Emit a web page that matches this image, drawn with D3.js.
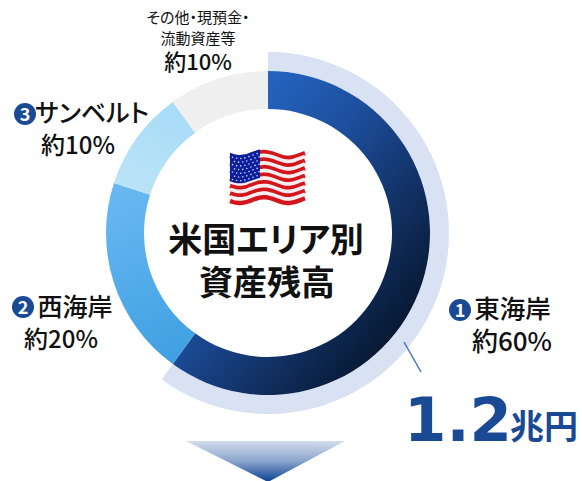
<!DOCTYPE html>
<html>
<head>
<meta charset="utf-8">
<style>
html, body { margin: 0; padding: 0; background: #fff; }
svg { display: block; }
text { font-family: "Noto Sans CJK JP", "Noto Sans", sans-serif; fill: #111; text-anchor: middle; font-weight: 500; font-feature-settings: "palt"; }
</style>
<script src="https://d3js.org/d3.v7.min.js"></script>
</head>
<body>
<svg id="chart" width="582" height="481"></svg>
<script>
// shares (%)
var regions = ["東海岸", "西海岸", "サンベルト", "その他"];
var shares = [60, 20, 10, 10];
var shareLabels = ["約60%", "約20%", "約10%", "約10%"];
var fills = ["url(#eastGrad)", "url(#westGrad)", "url(#beltGrad)", "#efefef"];
var highlightTotal = "1.2";
var highlightUnit = "兆円";

var svg = d3.select("#chart"),
  cx = 268,
  cy = 233,
  defs = svg.append("defs");

// Gradient coordinates are given in page pixels
function linearGrad(id, x1, y1, x2, y2, stops, local) {
  var dx = local ? cx : 0, dy = local ? cy : 0;
  var g = defs.append("linearGradient").attr("id", id)
    .attr("gradientUnits", "userSpaceOnUse")
    .attr("x1", x1 - dx).attr("y1", y1 - dy).attr("x2", x2 - dx).attr("y2", y2 - dy);
  stops.forEach(function(s) {
    g.append("stop").attr("offset", s[0]).attr("stop-color", s[1]);
  });
}
linearGrad("eastGrad", 225, 130, 425, 290, [[0, "#2464c0"], [0.35, "#1d4f9e"], [0.7, "#123266"], [1, "#081a36"]], true);
linearGrad("westGrad", 120, 190, 190, 370, [[0, "#68b8f2"], [1, "#3c9ee0"]], true);
linearGrad("beltGrad", 180, 105, 125, 195, [[0, "#a6dcf8"], [1, "#bde3f7"]], true);
linearGrad("arrowGrad", 0, 441, 0, 481, [[0, "#d3dcec"], [0.5, "#8ba5cc"], [1, "#0f4495"]], false);

var pie = d3.pie().sort(null).value(function(d) { return d; });
var arcs = pie(shares);
var ring = d3.arc().innerRadius(124).outerRadius(162);
var halo = d3.arc().innerRadius(162).outerRadius(181);

var g = svg.append("g").attr("transform", "translate(" + cx + "," + cy + ")");

// Pale band round the 60% slice
g.append("path").attr("d", halo(arcs[0])).attr("fill", "#d8e2f3");

g.selectAll("path.slice")
  .data(arcs)
  .enter().append("path")
  .attr("class", "slice")
  .attr("d", ring)
  .attr("fill", function(d, i) { return fills[i]; });

// Waving flag, built from rows of small strips
function drawFlag(x0, y0, w, h) {
  var flag = svg.append("g").attr("transform", "translate(" + x0 + "," + y0 + ")");
  var rows = 13, rowH = h / rows;
  var wave = d3.line().curve(d3.curveBasis);
  function yOff(x) { return 3 * Math.sin(x / w * Math.PI * 3.1 + 0.3); }
  var xs = d3.range(0, w + 1, 3);
  for (var i = 0; i < rows; i++) {
    var pts = xs.map(function(x) { return [x, i * rowH + rowH / 2 + yOff(x)]; });
    flag.append("path").attr("d", wave(pts)).attr("fill", "none")
      .attr("stroke", i % 2 ? "#f6eeee" : "#d3161c")
      .attr("stroke-width", rowH + 0.6);
  }
  var top = xs.filter(function(x) { return x <= w * 0.41; });
  var area = d3.area().curve(d3.curveBasis)
    .x(function(x) { return x; })
    .y0(function(x) { return yOff(x) - 1; })
    .y1(function(x) { return h * 0.56 + yOff(x); });
  flag.append("path").attr("d", area(top)).attr("fill", "#0d1f9c");
  for (var r = 0; r < 7; r++) {
    for (var c = 0; c < 7; c++) {
      var sx = 2.5 + c * 4.1 + (r % 2 ? 2 : 0);
      if (sx > w * 0.40) continue;
      flag.append("circle").attr("cx", sx).attr("cy", 2.5 + r * 3.7 + yOff(sx))
        .attr("r", 0.8).attr("fill", "#cfd6f5");
    }
  }
}
drawFlag(230, 153, 75, 49);

// One text element per label, each line a tspan: [x, y, size, weight, string]
function multiLine(lines) {
  var t = svg.append("text");
  lines.forEach(function(l) {
    t.append("tspan").attr("x", l[0]).attr("y", l[1])
      .style("font-size", l[2] + "px").style("font-weight", l[3]).text(l[4]);
  });
}

// Centre title
multiLine([[266, 252, 34, 700, "米国エリア別"], [267, 295, 34, 700, "資産残高"]]);

function badge(x, y, n) {
  svg.append("circle").attr("cx", x).attr("cy", y).attr("r", 11).attr("fill", "#1b4a94");
  svg.append("text").attr("x", x).attr("y", y + 6.5)
    .style("font-size", "18px").style("font-weight", 700).style("fill", "#fff").text(n);
}

// East coast
badge(460, 310, "1");
multiLine([[512.5, 318, 25.5, 500, regions[0]], [512, 351, 26, 500, shareLabels[0]]]);
// West coast
badge(23, 307, "2");
multiLine([[75, 316, 25, 500, regions[1]], [61, 348, 24, 500, shareLabels[1]]]);
// Sunbelt
badge(25, 114, "3");
multiLine([[92, 122, 25, 500, regions[2]], [78, 154, 24, 500, shareLabels[2]]]);
// Other
multiLine([[198, 23, 15, 400, "その他・現預金・"], [198, 44, 15, 400, "流動資産等"], [198, 70, 22, 500, shareLabels[3]]]);

// Leader line and total
svg.append("line").attr("x1", 404).attr("y1", 342).attr("x2", 421).attr("y2", 372)
  .attr("stroke", "#4a72c4").attr("stroke-width", 1.5);
svg.append("text").attr("x", 458).attr("y", 441)
  .style("font-family", "'DejaVu Sans'").style("font-size", "61px").style("font-weight", 700)
  .style("fill", "#1b4a94").text(highlightTotal);
svg.append("text").attr("x", 544).attr("y", 439)
  .style("font-size", "34px").style("font-weight", 700)
  .style("fill", "#1b4a94").text(highlightUnit);

// Down arrow at the foot
svg.append("path")
  .attr("d", d3.line()([[186, 441], [345, 441], [268, 482]]))
  .attr("fill", "url(#arrowGrad)");
</script>
</body>
</html>
